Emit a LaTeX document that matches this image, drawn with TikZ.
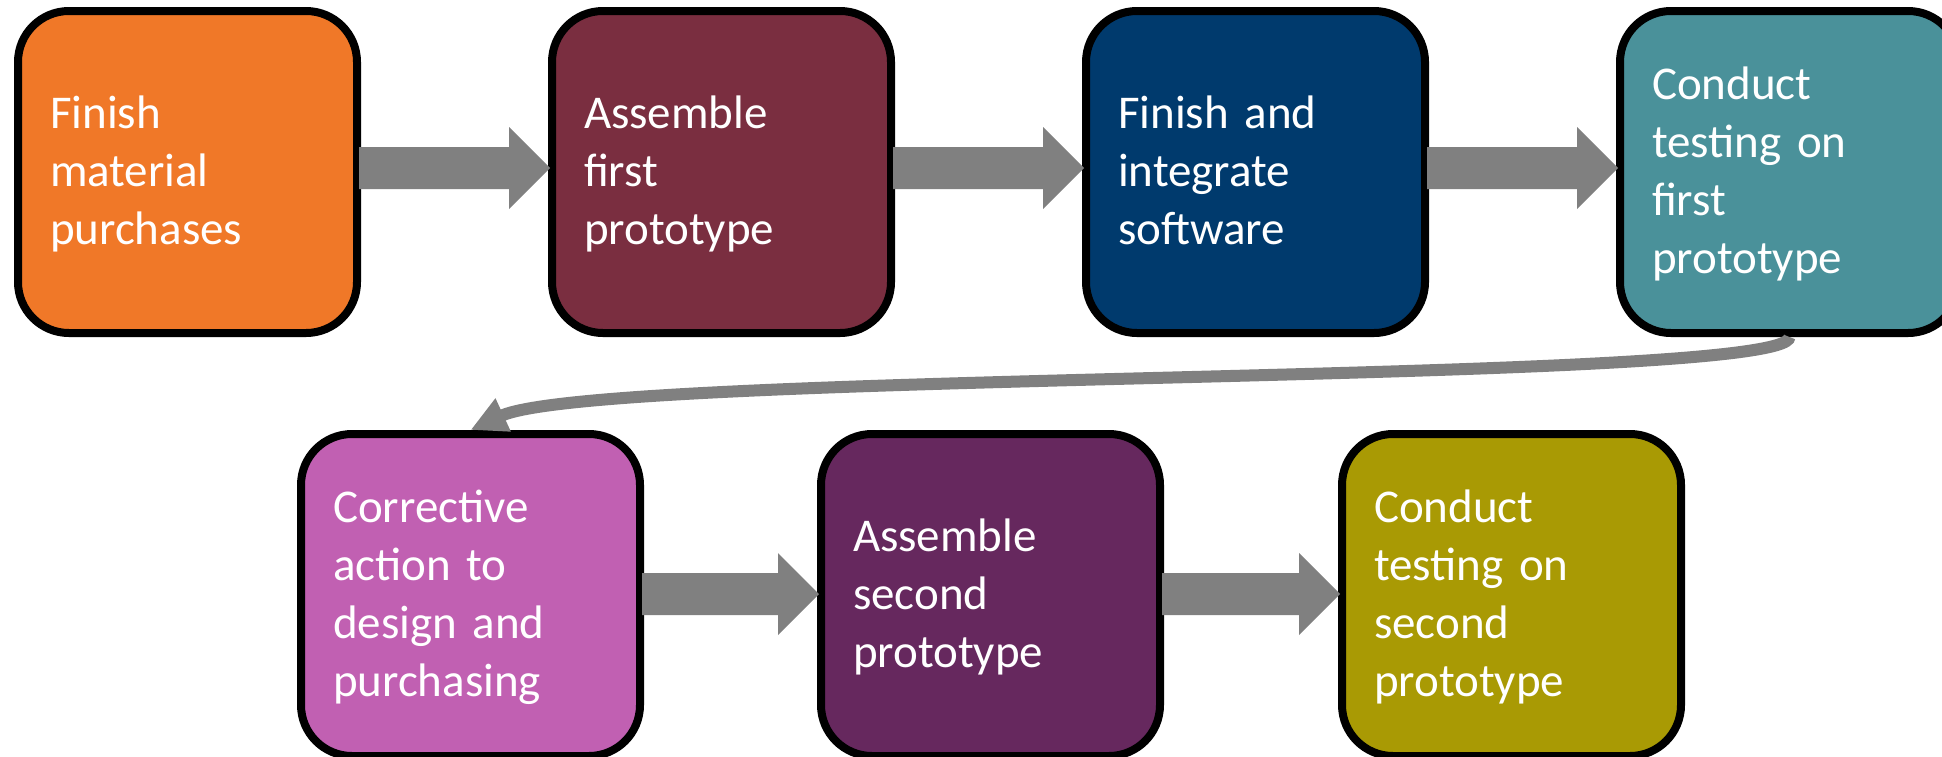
\documentclass[tikz,border=0pt]{standalone}
\usepackage{fontspec}
\setmainfont{Carlito}
\usetikzlibrary{calc,arrows.meta}
\definecolor{cOrange}{HTML}{F07828}
\definecolor{cMaroon}{HTML}{7A2E40}
\definecolor{cNavy}{HTML}{003A6D}
\definecolor{cTeal}{HTML}{4A919A}
\definecolor{cPink}{HTML}{C160B2}
\definecolor{cPurple}{HTML}{66285E}
\definecolor{cOlive}{HTML}{A99A04}
\definecolor{arrowgray}{HTML}{808080}
\newcommand\blockarrow[3]{%
  \fill[arrowgray] ($(#1.east)+(-2,#3-21)$) -- ($(#2.west)+(-39,#3-21)$) -- ($(#2.west)+(-39,#3-41)$) -- ($(#2.west)+(2,#3)$) -- ($(#2.west)+(-39,#3+41)$) -- ($(#2.west)+(-39,#3+21)$) -- ($(#1.east)+(-2,#3+21)$) -- cycle;}
\newcommand\boxtext[1]{\rule{0pt}{22pt}#1\rule[-8pt]{0pt}{8pt}}
\begin{document}
\begin{tikzpicture}[x=0.5pt,y=-0.5pt,
  stepbox/.style={draw=black, line width=4pt, rounded corners=25.5pt,
    minimum width=169.5pt, minimum height=161pt, text width=137.5pt,
    inner xsep=16pt, inner ysep=0pt, align=left, text=white,
    font=\fontsize{23.5}{29}\selectfont},
  curvearrow/.style={draw=arrowgray, line width=6pt, -{Triangle[length=18pt,width=17pt]}}]
\useasboundingbox (0,0) rectangle (1942,756);
\node[stepbox, fill=cOrange] (t1) at (187.5,172) {\boxtext{Finish\\material\\purchases}};
\node[stepbox, fill=cMaroon] (t2) at (721.5,172) {\boxtext{Assemble\\first\\prototype}};
\node[stepbox, fill=cNavy] (t3) at (1255.5,172) {\boxtext{Finish and\\integrate\\software}};
\node[stepbox, fill=cTeal] (t4) at (1789.5,172) {\boxtext{Conduct\\testing on\\first\\prototype}};
\node[stepbox, fill=cPink] (t5) at (470.5,595) {\boxtext{Corrective\\action to\\design and\\purchasing}};
\node[stepbox, fill=cPurple] (t6) at (990.5,595) {\boxtext{Assemble\\second\\prototype}};
\node[stepbox, fill=cOlive] (t7) at (1511.5,595) {\boxtext{Conduct\\testing on\\second\\prototype}};
\blockarrow{t1}{t2}{-4}
\blockarrow{t2}{t3}{-4}
\blockarrow{t3}{t4}{-4}
\blockarrow{t5}{t6}{-1}
\blockarrow{t6}{t7}{-1}
\draw[curvearrow] (t4.south) .. controls ($(t4.south)+(0,48)$) and ($(t5.north)+(130,-60)$) .. (t5.north);
\end{tikzpicture}
\end{document}
